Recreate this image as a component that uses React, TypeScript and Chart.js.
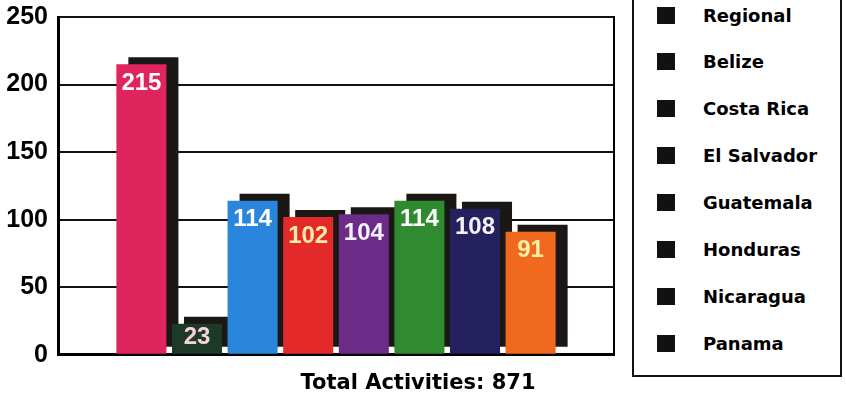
import React, { useEffect, useRef } from 'react';
import { Chart, registerables } from 'chart.js';

Chart.register(...registerables);

// ---- data ----
const categories = ['Regional', 'Belize', 'Costa Rica', 'El Salvador', 'Guatemala', 'Honduras', 'Nicaragua', 'Panama'];
const activities = [215, 23, 114, 102, 104, 114, 108, 91];
const yTicks = [0, 50, 100, 150, 200, 250];
const titlePrefix = 'Total Activities: ';

// ---- styles ----
const barColors = ['#e0245e', '#1d3a29', '#2a86dd', '#e4292b', '#6b2b86', '#2f8a30', '#25215e', '#f0691f'];
const labelColors = ['#ffffff', '#f6d3dc', '#ffffff', '#ffeaa6', '#f3f0ff', '#ffffff', '#f6f0fb', '#fff0a8'];
const NUM_FONT = '"Liberation Sans", Arial, Helvetica, sans-serif';
const TEXT_FONT = '"DejaVu Sans", "Liberation Sans", Arial, sans-serif';

const shadowAndLabels = {
  id: 'shadowAndLabels',
  beforeDatasetsDraw(chart: any) {
    const ctx = chart.ctx;
    ctx.save();
    ctx.shadowColor = '#1b1715';
    ctx.shadowOffsetX = 12;
    ctx.shadowOffsetY = -7;
    ctx.shadowBlur = 0;
  },
  afterDatasetsDraw(chart: any) {
    const ctx = chart.ctx;
    ctx.restore();
    const meta = chart.getDatasetMeta(0);
    ctx.save();
    ctx.font = `bold 24px ${NUM_FONT}`;
    ctx.textAlign = 'center';
    ctx.textBaseline = 'middle';
    meta.data.forEach((el: any, i: number) => {
      const idx = i - 1;
      if (idx < 0 || idx >= activities.length) return;
      const h = el.base - el.y;
      const off = Math.min(19, h * 0.45);
      ctx.fillStyle = labelColors[idx];
      ctx.fillText(String(activities[idx]), el.x, el.y + off);
    });
    ctx.restore();
  },
};

function Legend() {
  return (
    <div
      style={{
        position: 'absolute',
        left: 632,
        top: -10,
        width: 210,
        height: 387,
        border: '2px solid #111',
        background: '#fff',
        boxSizing: 'border-box',
      }}
    >
      {categories.map((c, i) => (
        <div
          key={c}
          style={{
            position: 'absolute',
            left: 0,
            top: 11 + i * 46.9,
            height: 24,
            display: 'flex',
            alignItems: 'center',
          }}
        >
          <div style={{ width: 18, height: 17, background: '#111', marginLeft: 23 }} />
          <span
            style={{
              marginLeft: 28,
              font: `bold 18px ${TEXT_FONT}`,
              color: '#000',
              whiteSpace: 'nowrap',
            }}
          >
            {c}
          </span>
        </div>
      ))}
    </div>
  );
}

export default function App() {
  const ref = useRef<HTMLCanvasElement>(null);

  useEffect(() => {
    if (!ref.current) return;
    const total = activities.reduce((a, b) => a + b, 0);
    const labels = [' ', ...categories, '  '];
    const data = [null, ...activities, null];
    const colors = ['#fff', ...barColors, '#fff'];
    const chart = new Chart(ref.current, {
      type: 'bar',
      data: {
        labels,
        datasets: [
          {
            label: 'Activities',
            data,
            backgroundColor: colors,
            borderWidth: 0,
            barPercentage: 0.9,
            categoryPercentage: 1.0,
          },
        ],
      },
      options: {
        animation: false,
        responsive: false,
        maintainAspectRatio: false,
        layout: { padding: { left: 0, right: 10, top: 17, bottom: 0 } },
        plugins: {
          legend: { display: false },
          tooltip: { enabled: false },
          title: {
            display: true,
            position: 'bottom',
            text: titlePrefix + total,
            color: '#000',
            font: { family: TEXT_FONT, size: 21, weight: 'bold' },
            padding: { top: 16, bottom: 4 },
          },
        },
        scales: {
          x: {
            type: 'category',
            display: true,
            ticks: { display: false },
            grid: { display: false, drawTicks: false },
            border: { display: true, color: '#000', width: 3 },
          },
          y: {
            type: 'linear',
            position: 'left',
            min: 0,
            max: 250,
            afterFit: (s: any) => {
              s.width = 58;
              s.paddingTop = 0;
              s.paddingBottom = 0;
            },
            afterBuildTicks: (s: any) => {
              s.ticks = yTicks.map((v) => ({ value: v }));
            },
            ticks: {
              color: '#000',
              padding: 10,
              font: { family: NUM_FONT, size: 25, weight: 'bold' },
            },
            grid: { color: '#111', lineWidth: 2, drawTicks: false },
            border: { display: true, color: '#000', width: 3 },
          },
          y2: {
            type: 'linear',
            position: 'right',
            display: true,
            min: 0,
            max: 250,
            afterFit: (s: any) => {
              s.width = 222;
              s.paddingTop = 0;
              s.paddingBottom = 0;
            },
            ticks: { display: false },
            grid: { display: false, drawTicks: false },
            border: { display: true, color: '#000', width: 2 },
          },
        },
      },
      plugins: [shadowAndLabels],
    } as any);
    return () => chart.destroy();
  }, []);

  return (
    <div style={{ position: 'absolute', left: 0, top: 0, width: 846, height: 400, background: '#fff', overflow: 'hidden' }}>
      <canvas ref={ref} width={846} height={400} style={{ width: 846, height: 400, display: 'block' }} />
      <Legend />
    </div>
  );
}
